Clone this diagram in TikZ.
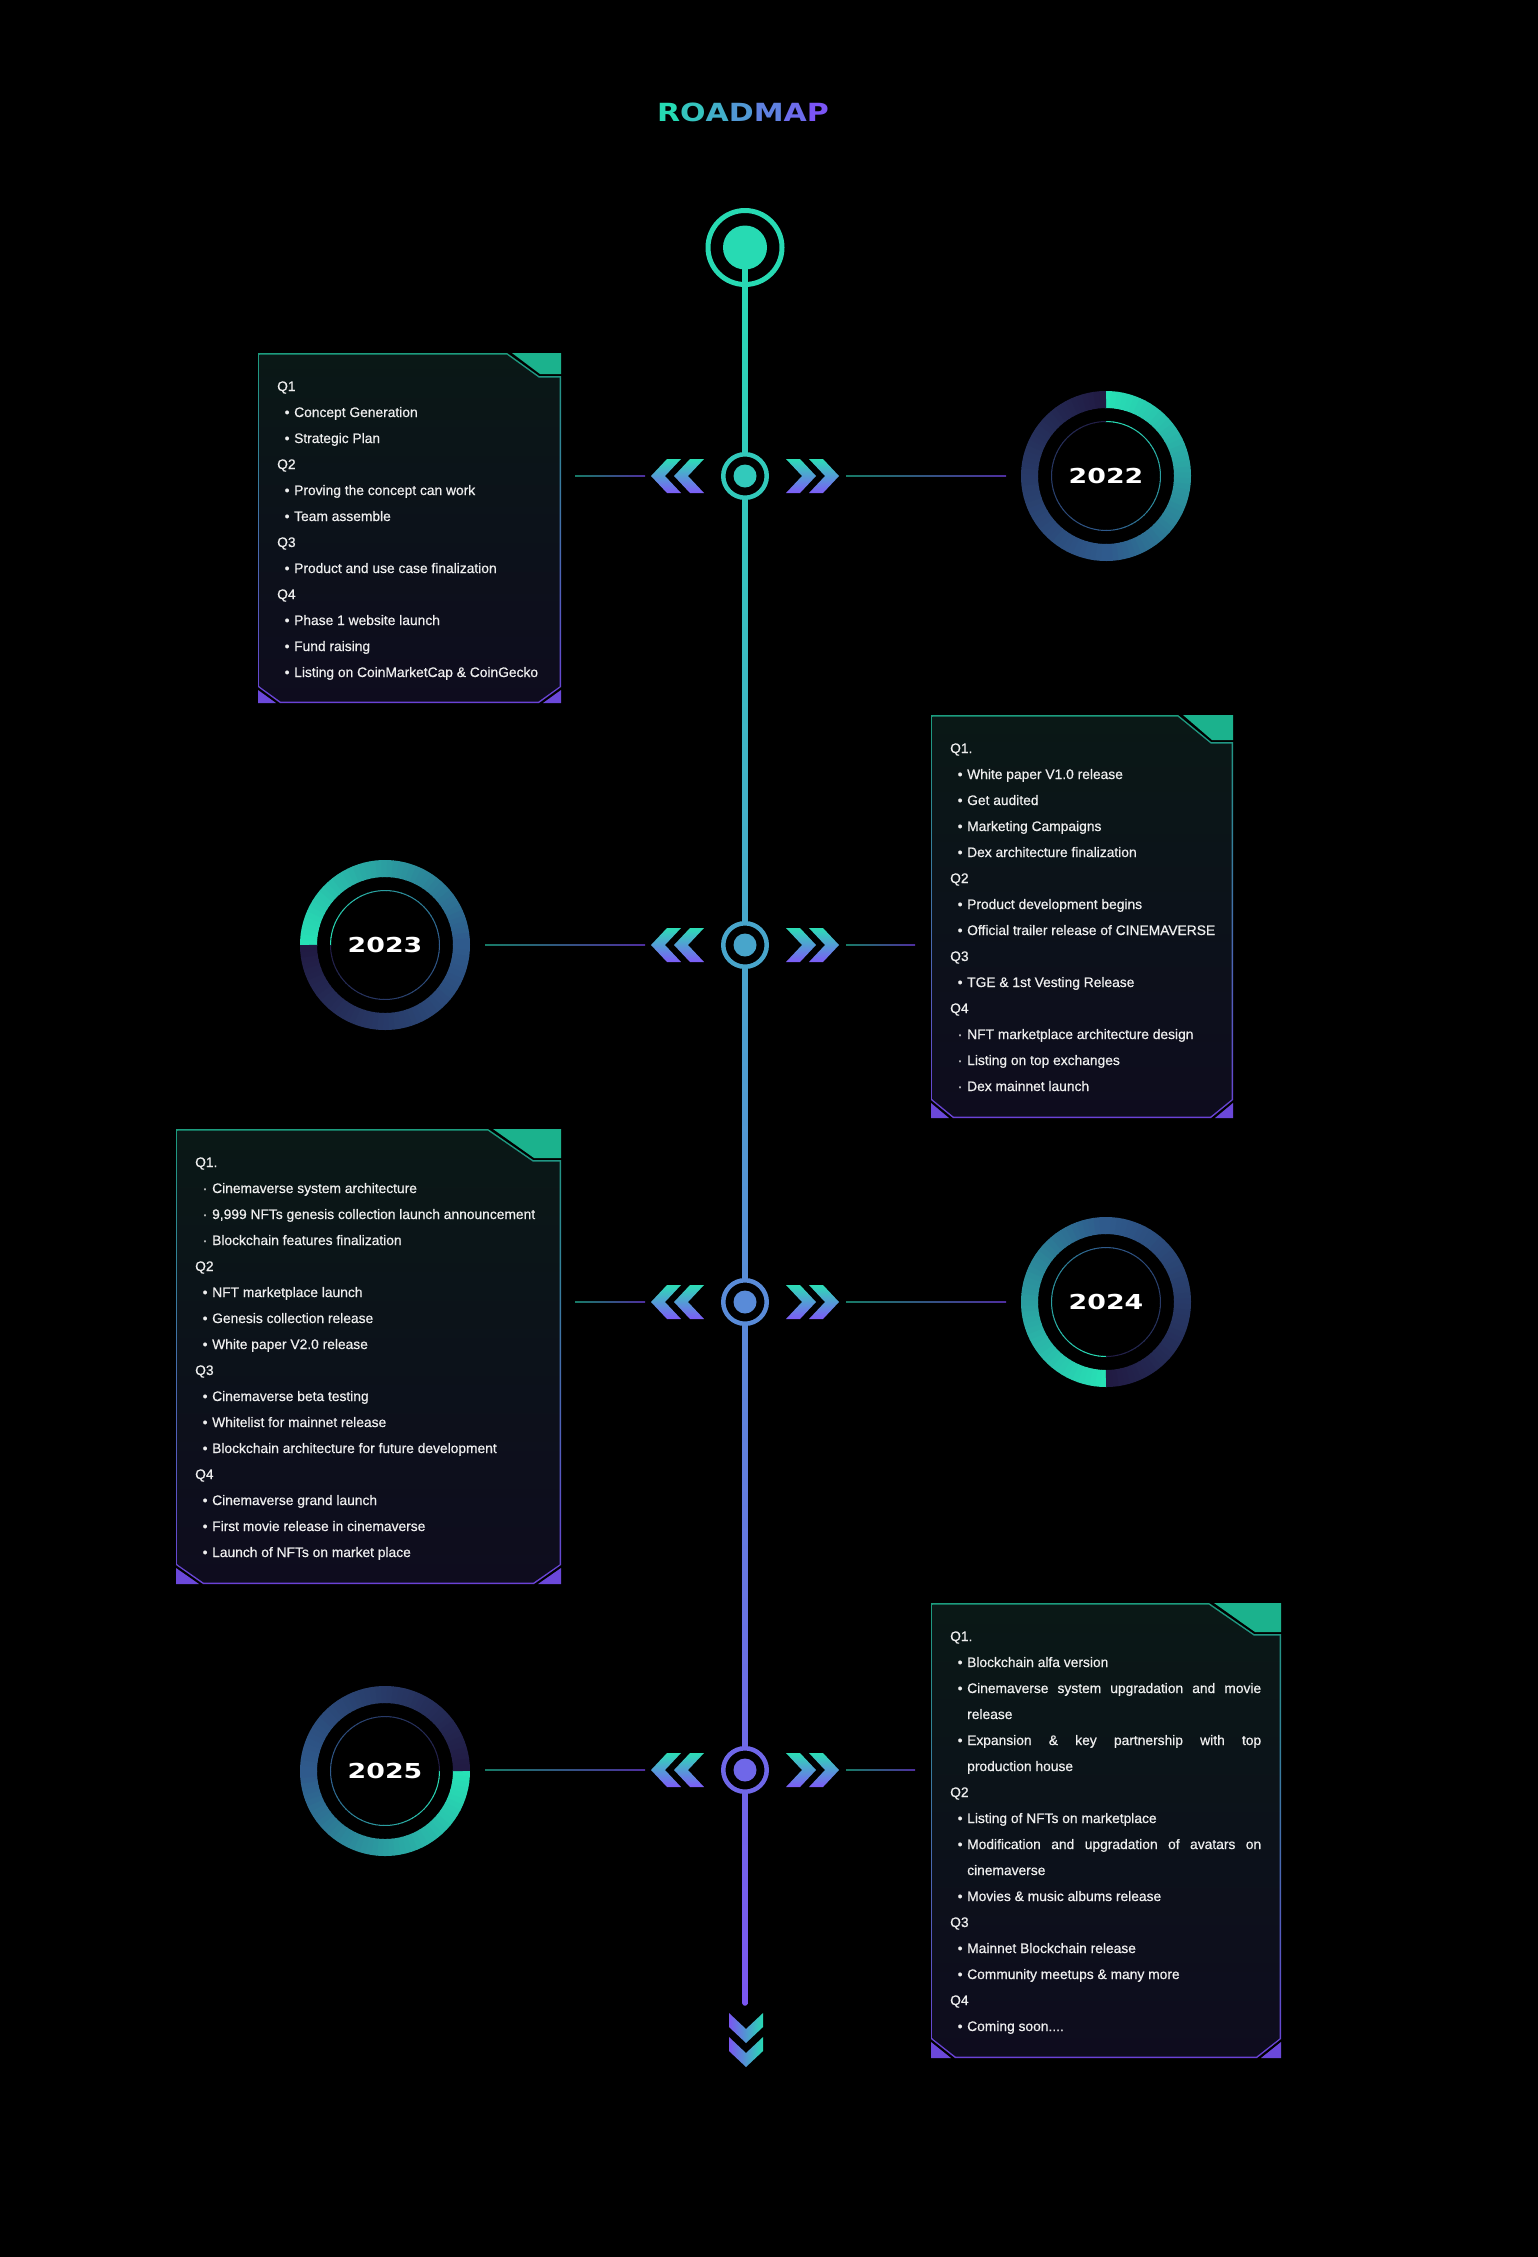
\documentclass[tikz,border=0pt]{standalone}
\usepackage{fontspec}
\usepackage{graphicx}
\setmainfont{Liberation Sans}
\newfontfamily\listfont{Liberation Sans}[FakeBold=0.6]
\newfontfamily\heavyfont{DejaVu Sans}

\definecolor{lineTop}{HTML}{27DAB3}
\definecolor{lineBot}{HTML}{7A56F0}
\definecolor{chevTop}{HTML}{2CDDB5}
\definecolor{chevBot}{HTML}{7D5BF7}
\definecolor{linkA}{HTML}{177A66}
\definecolor{linkB}{HTML}{4E2E9E}
\definecolor{edgeTop}{HTML}{1C9C7E}
\definecolor{edgeBot}{HTML}{6A42D6}
\definecolor{panelTop}{HTML}{0A1816}
\definecolor{panelBot}{HTML}{0E0C1E}
\definecolor{tabteal}{HTML}{1BB28D}
\definecolor{cornerviolet}{HTML}{6B48DA}
\definecolor{ringA}{HTML}{27E2B6}
\definecolor{ringB}{HTML}{2F5A8C}
\definecolor{ringC}{HTML}{211B43}
\definecolor{bodyink}{HTML}{EEEEEE}
\definecolor{titleT}{HTML}{26DBB3}
\definecolor{titleP}{HTML}{7B55F6}
\colorlet{mcA}{lineBot!13!lineTop}
\colorlet{mcB}{lineBot!40!lineTop}
\colorlet{mcC}{lineBot!60!lineTop}
\colorlet{mcD}{lineBot!87!lineTop}

% list markers
\newcommand{\bulletmark}{\hspace{0.5pt}•}
\newcommand{\dotmark}{\hspace{0.5pt}·}

% text rows inside a panel (panel-relative coordinates, 26pt line pitch)
\newcommand{\qline}[3]{\node[bodytxt] (#1) at (19,{-38-26*#2}) {#3};}
\newcommand{\bline}[3]{\node[bodytxt] (#1) at (26,{-38-26*#2}) {\makebox[10pt][l]{\bulletmark}#3};}
\newcommand{\dline}[3]{\node[bodytxt] (#1) at (26,{-38-26*#2}) {\makebox[10pt][l]{\dotmark}#3};}
\newcommand{\contline}[3]{\node[bodytxt] (#1) at (36,{-38-26*#2}) {#3};}

% panel: L T R B, notch start, notch end, notch depth, foot width, foot height
\newcommand{\panel}[9]{%
  \shade[top color=edgeTop, bottom color=edgeBot]
    (#1,-#2) -- ({#3-#5},-#2) -- ({#3-#6},{-#2-#7}) -- (#3,{-#2-#7})
    -- (#3,{-#4+#9}) -- ({#3-#8},-#4) -- ({#1+#8},-#4) -- (#1,{-#4+#9}) -- cycle;
  \shade[top color=panelTop, bottom color=panelBot]
    ({#1+1.5},{-#2-1.5}) -- ({#3-#5-0.5},{-#2-1.5}) -- ({#3-#6-0.5},{-#2-#7-1.5}) -- ({#3-1.5},{-#2-#7-1.5})
    -- ({#3-1.5},{-#4+#9+0.6}) -- ({#3-#8-0.6},{-#4+1.5}) -- ({#1+#8+0.6},{-#4+1.5}) -- ({#1+1.5},{-#4+#9+0.6}) -- cycle;
  \fill[tabteal] ({#3-#5+5},-#2) -- (#3,-#2) -- (#3,{-#2-#7+2}) -- ({#3-#6+1},{-#2-#7+2}) -- cycle;
  \fill[cornerviolet] (#1,{-#4+#9-3}) -- (#1,-#4) -- ({#1+#8-4},-#4) -- cycle;
  \fill[cornerviolet] (#3,{-#4+#9-3}) -- (#3,-#4) -- ({#3-#8+4},-#4) -- cycle;
}

% year ring with a clockwise sweep: name, cx, cy, start angle, label
\newcommand{\yearring}[5]{%
  \begin{scope}[shift={(#2,-#3)}]
    \foreach \i in {0,...,89}{%
      \pgfmathsetmacro{\ringang}{#4-4*\i}%
      \pgfmathsetmacro{\ringbeg}{\ringang+0.6}%
      \pgfmathsetmacro{\ringend}{\ringang-4}%
      \ifnum\i<45
        \pgfmathtruncatemacro{\ringpct}{round(100*\i/44)}%
        \colorlet{segc}{ringB!\ringpct!ringA}%
      \else
        \pgfmathtruncatemacro{\ringpct}{round(100*(\i-45)/44)}%
        \colorlet{segc}{ringC!\ringpct!ringB}%
      \fi
      \draw[segc, line width=17pt] (\ringbeg:76.5pt) arc[start angle=\ringbeg, end angle=\ringend, radius=76.5pt];
      \draw[segc, line width=1pt] (\ringbeg:54.5pt) arc[start angle=\ringbeg, end angle=\ringend, radius=54.5pt];
    }
    \node[yeartxt] (#1) at (0,0) {\scalebox{1.3}[1]{#5}};
  \end{scope}}

% double chevrons beside a milestone
\newcommand{\lchev}[2]{\shade[chevfill] (#1,-#2) -- ({#1+16},{-#2+17}) -- ({#1+30},{-#2+17}) -- ({#1+14},-#2) -- ({#1+30},{-#2-17}) -- ({#1+16},{-#2-17}) -- cycle;}
\newcommand{\rchev}[2]{\shade[chevfill] (#1,-#2) -- ({#1-16},{-#2+17}) -- ({#1-30},{-#2+17}) -- ({#1-14},-#2) -- ({#1-30},{-#2-17}) -- ({#1-16},{-#2-17}) -- cycle;}

% thin gradient link between two named points
\newcommand{\hlink}[4]{%
  \coordinate (#1a) at (#2,-#4);
  \coordinate (#1b) at (#3,-#4);
  \shade[link] ([yshift=-0.85pt]#1a) rectangle ([yshift=0.85pt]#1b);}

\begin{document}
\begin{tikzpicture}[x=1pt,y=1pt,
  bodytxt/.style={anchor=base west, inner sep=0pt, text=bodyink, font=\listfont\fontsize{13.8}{16}\selectfont},
  yeartxt/.style={inner sep=0pt, text=white, font=\heavyfont\bfseries\fontsize{20.6}{22}\selectfont},
  chevfill/.style={top color=chevTop, bottom color=chevBot},
  milestone/.style={circle, draw=#1, line width=4.5pt, fill=black, minimum size=43.5pt, inner sep=0pt},
  link/.style={left color=linkA, right color=linkB},
]
\useasboundingbox (0,0) rectangle (1537,-2257);
\fill[black] (-6,6) rectangle (1543,-2263);

% title
\node[inner sep=0pt, font=\heavyfont\bfseries\fontsize{25}{27}\selectfont] (title) at (743,-112)
  {\scalebox{1.2}[1]{{\color{titleT}R}{\color{titleP!17!titleT}O}{\color{titleP!33!titleT}A}{\color{titleP!50!titleT}D}{\color{titleP!67!titleT}M}{\color{titleP!83!titleT}A}{\color{titleP}P}}};

% spine
\node[circle, draw=lineTop, line width=5pt, minimum size=74pt, inner sep=0pt] (start) at (745,-247.5) {};
\coordinate (spineend) at (745,-2003);
\shade[top color=lineTop, bottom color=lineBot] ([xshift=-2.75pt]start.center) rectangle ([xshift=2.75pt]spineend);
\fill[lineBot] (spineend) circle[radius=2.75pt];
\fill[lineTop] (start.center) circle[radius=22pt];

% links to panels and rings
\hlink{ka}{575}{645}{476}
\hlink{kb}{846}{1006}{476}
\hlink{kc}{485}{645}{945}
\hlink{kd}{846}{915}{945}
\hlink{ke}{575}{645}{1302}
\hlink{kf}{846}{1006}{1302}
\hlink{kg}{485}{645}{1770}
\hlink{kh}{846}{915}{1770}

% chevrons
\foreach \y in {476,945,1302,1770}{
  \lchev{651}{\y}
  \lchev{674}{\y}
  \rchev{839}{\y}
  \rchev{816}{\y}
}

% milestones
\node[milestone=mcA] (m1) at (745,-476) {};
\fill[mcA] (m1.center) circle[radius=11.5pt];
\node[milestone=mcB] (m2) at (745,-945) {};
\fill[mcB] (m2.center) circle[radius=11.5pt];
\node[milestone=mcC] (m3) at (745,-1302) {};
\fill[mcC] (m3.center) circle[radius=11.5pt];
\node[milestone=mcD] (m4) at (745,-1770) {};
\fill[mcD] (m4.center) circle[radius=11.5pt];

% end arrow
\foreach \y in {2013,2037}{
  \shade[left color=lineBot, right color=lineTop]
    (729,-\y) -- (746,{-\y-16}) -- (763,-\y) -- (763,{-\y-14}) -- (746,{-\y-30}) -- (729,{-\y-14}) -- cycle;
}

% panels
\panel{258}{353}{561}{703}{54}{22}{23}{22}{16}
\panel{931}{715}{1233}{1118}{55}{22}{27}{22}{18}
\panel{176}{1129}{561}{1584}{73}{28}{31}{27}{19}
\panel{931}{1603}{1281}{2058}{72}{27}{31}{24}{19}

% 2022 panel text
\begin{scope}[shift={(258,-353)}]
\qline{pa0}{0}{Q1}
\bline{pa1}{1}{Concept Generation}
\bline{pa2}{2}{Strategic Plan}
\qline{pa3}{3}{Q2}
\bline{pa4}{4}{Proving the concept can work}
\bline{pa5}{5}{Team assemble}
\qline{pa6}{6}{Q3}
\bline{pa7}{7}{Product and use case finalization}
\qline{pa8}{8}{Q4}
\bline{pa9}{9}{Phase 1 website launch}
\bline{pa10}{10}{Fund raising}
\bline{pa11}{11}{Listing on CoinMarketCap \& CoinGecko}
\end{scope}

% 2023 panel text
\begin{scope}[shift={(931,-715)}]
\qline{pb0}{0}{Q1.}
\bline{pb1}{1}{White paper V1.0 release}
\bline{pb2}{2}{Get audited}
\bline{pb3}{3}{Marketing Campaigns}
\bline{pb4}{4}{Dex architecture finalization}
\qline{pb5}{5}{Q2}
\bline{pb6}{6}{Product development begins}
\bline{pb7}{7}{Official trailer release of CINEMAVERSE}
\qline{pb8}{8}{Q3}
\bline{pb9}{9}{TGE \& 1st Vesting Release}
\qline{pb10}{10}{Q4}
\dline{pb11}{11}{NFT marketplace architecture design}
\dline{pb12}{12}{Listing on top exchanges}
\dline{pb13}{13}{Dex mainnet launch}
\end{scope}

% 2024 panel text
\begin{scope}[shift={(176,-1129)}]
\qline{pc0}{0}{Q1.}
\dline{pc1}{1}{Cinemaverse system architecture}
\dline{pc2}{2}{9,999 NFTs genesis collection launch announcement}
\dline{pc3}{3}{Blockchain features finalization}
\qline{pc4}{4}{Q2}
\bline{pc5}{5}{NFT marketplace launch}
\bline{pc6}{6}{Genesis collection release}
\bline{pc7}{7}{White paper V2.0 release}
\qline{pc8}{8}{Q3}
\bline{pc9}{9}{Cinemaverse beta testing}
\bline{pc10}{10}{Whitelist for mainnet release}
\bline{pc11}{11}{Blockchain architecture for future development}
\qline{pc12}{12}{Q4}
\bline{pc13}{13}{Cinemaverse grand launch}
\bline{pc14}{14}{First movie release in cinemaverse}
\bline{pc15}{15}{Launch of NFTs on market place}
\end{scope}

% 2025 panel text
\begin{scope}[shift={(931,-1603)}]
\qline{pd0}{0}{Q1.}
\bline{pd1}{1}{Blockchain alfa version}
\bline{pd2}{2}{\makebox[294pt][s]{Cinemaverse system upgradation and movie}}
\contline{pd3}{3}{release}
\bline{pd4}{4}{\makebox[294pt][s]{Expansion \& key partnership with top}}
\contline{pd5}{5}{production house}
\qline{pd6}{6}{Q2}
\bline{pd7}{7}{Listing of NFTs on marketplace}
\bline{pd8}{8}{\makebox[294pt][s]{Modification and upgradation of avatars on}}
\contline{pd9}{9}{cinemaverse}
\bline{pd10}{10}{Movies \& music albums release}
\qline{pd11}{11}{Q3}
\bline{pd12}{12}{Mainnet Blockchain release}
\bline{pd13}{13}{Community meetups \& many more}
\qline{pd14}{14}{Q4}
\bline{pd15}{15}{Coming soon....}
\end{scope}

% year rings
\yearring{y22}{1106}{476}{90}{2022}
\yearring{y23}{385}{945}{180}{2023}
\yearring{y24}{1106}{1302}{270}{2024}
\yearring{y25}{385}{1771}{0}{2025}

\end{tikzpicture}
\end{document}
